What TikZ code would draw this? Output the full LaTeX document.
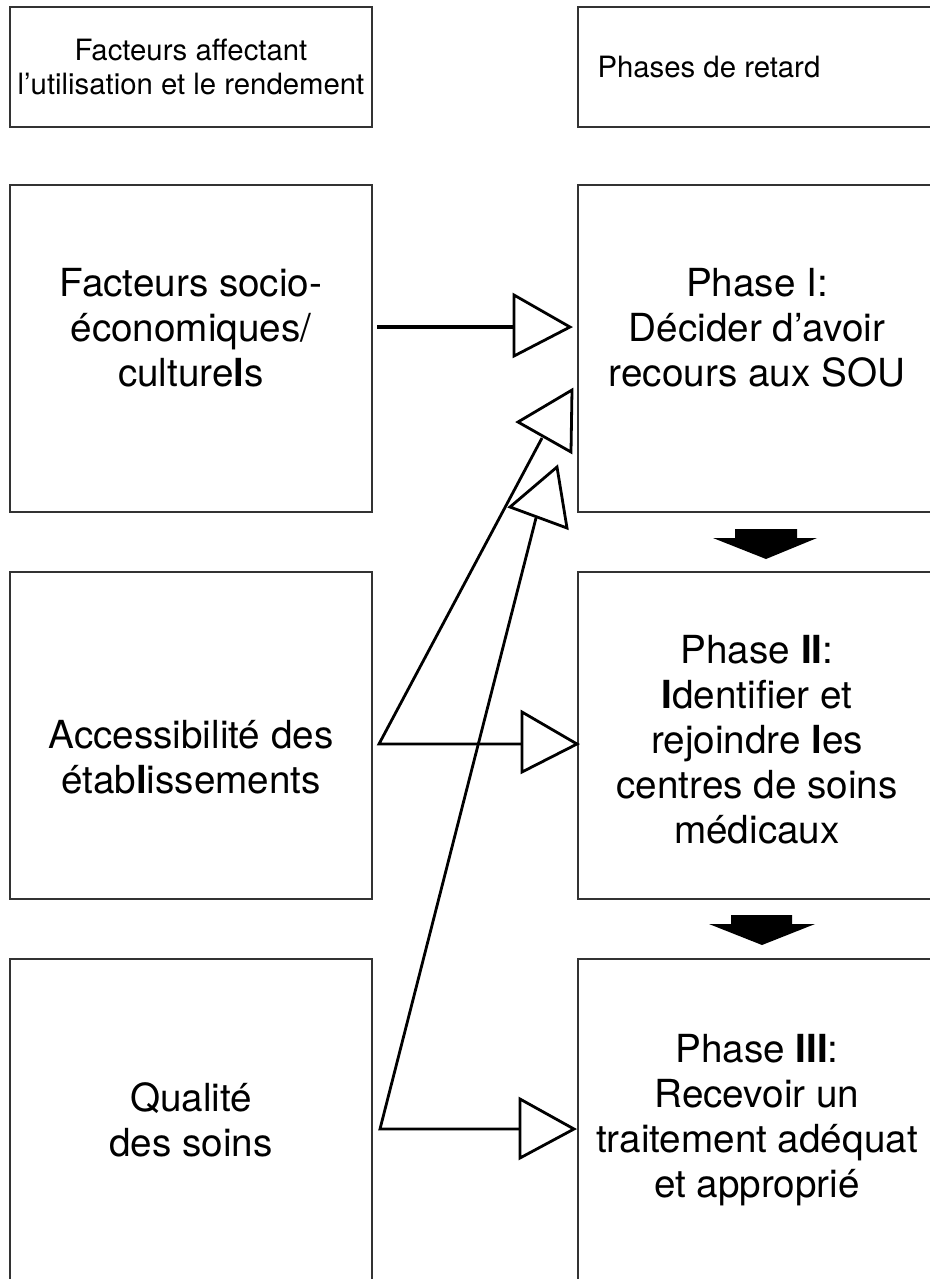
\documentclass[tikz,border=0pt]{standalone}
\usepackage{fontspec}
\setmainfont{TeX Gyre Heros}
\usetikzlibrary{fit}

\tikzset{every picture/.style={line width=0.75pt}}
\tikzset{
  boite/.style={draw={rgb, 255:red, 51; green, 51; blue, 51}, line width=1pt, inner sep=0pt},
  lien/.style={line width=2.1pt},
  tete/.style={line width=2.1pt, fill=white, line join=miter},
  bloc/.style={fill=black, draw=none},
  petit/.style={font=\fontsize{22}{26}\selectfont, inner sep=0.75pt, align=center},
  grand/.style={font=\fontsize{29}{33.75}\selectfont, inner sep=0.75pt, align=center}
}

\begin{document}
\begin{tikzpicture}[x=0.75pt,y=0.75pt,yscale=-1,xscale=1]
\path [use as bounding box] (0,0) rectangle (930,1279);
\clip (0,0) rectangle (930,1279);

%Shape: Rectangle [id:facteurs]
\node [boite, fit={(10,7) (372,127)}] (facteurs) {};
%Shape: Rectangle [id:phases]
\node [boite, fit={(578,7) (940,127)}] (phases) {};
%Shape: Rectangle [id:socio]
\node [boite, fit={(10,185) (372,512)}] (socio) {};
%Shape: Rectangle [id:phaseI]
\node [boite, fit={(578,185) (940,512)}] (phaseI) {};
%Shape: Rectangle [id:acces]
\node [boite, fit={(10,572) (372,899)}] (acces) {};
%Shape: Rectangle [id:phaseII]
\node [boite, fit={(578,572) (940,899)}] (phaseII) {};
%Shape: Rectangle [id:qualite]
\node [boite, fit={(10,959) (372,1290)}] (qualite) {};
%Shape: Rectangle [id:phaseIII]
\node [boite, fit={(578,959) (940,1290)}] (phaseIII) {};

%Points of the connectors
\coordinate (depA) at (377,327);
\coordinate (baseA) at (514,327);
\coordinate (depB) at (379,744);
\coordinate (baseB) at (522,744);
\coordinate (finB) at (542,438);
\coordinate (depC) at (380,1129);
\coordinate (baseC) at (520,1129);
\coordinate (finC) at (536,518);

%Straight Lines [id:lienA]
\draw [lien, line width=3pt] (depA) -- (baseA) ;
%Straight Lines [id:lienB]
\draw [lien] (finB) -- (depB) -- (baseB) ;
%Straight Lines [id:lienC]
\draw [lien] (finC) -- (depC) -- (baseC) ;

%Shape: Triangle [id:teteA]
\draw [tete] (514,295) -- (570,327) -- (514,356) -- cycle ;
%Shape: Triangle [id:teteB]
\draw [tete] (522,712) -- (577,744) -- (522,772) -- cycle ;
%Shape: Triangle [id:teteC]
\draw [tete] (520,1099) -- (574,1129) -- (520,1158) -- cycle ;
%Shape: Triangle [id:teteBdiag]
\draw [tete] (518,422) -- (572,390) -- (571,452) -- cycle ;
%Shape: Triangle [id:teteCdiag]
\draw [tete] (510,507) -- (557,467) -- (567,528) -- cycle ;

%Shape: Down Arrow [id:fleche1]
\fill [bloc] (735,529) -- (797,529) -- (797,538) -- (817,538) -- (766,559) -- (713,538) -- (735,538) -- cycle ;
%Shape: Down Arrow [id:fleche2]
\fill [bloc] (731,915) -- (792,915) -- (792,924) -- (815,924) -- (762,945) -- (709,924) -- (731,924) -- cycle ;

% Text Node
\node [petit] (tfacteurs) at (191,67) {Facteurs affectant\\l’utilisation et le rendement};
% Text Node
\node [petit, anchor=west] (tphases) at (596,67) {Phases de retard};
% Text Node
\node [grand] (tsocio) at (191,328) {Facteurs socio-\\économiques/\\culture\textbf{l}s};
% Text Node
\node [grand] (tphaseI) at (757,328) {Phase I:\\Décider d’avoir\\recours aux SOU};
% Text Node
\node [grand] (tacces) at (191,757) {Accessibilité des\\étab\textbf{l}issements};
% Text Node
\node [grand] (tphaseII) at (757,740) {Phase \textbf{II}:\\\textbf{I}dentifier et\\rejoindre \textbf{l}es\\centres de soins\\médicaux};
% Text Node
\node [grand] (tqualite) at (191,1120) {Qualité\\des soins};
% Text Node
\node [grand] (tphaseIII) at (757,1120) {Phase \textbf{III}:\\Recevoir un\\traitement adéquat\\et approprié};

\end{tikzpicture}
\end{document}
